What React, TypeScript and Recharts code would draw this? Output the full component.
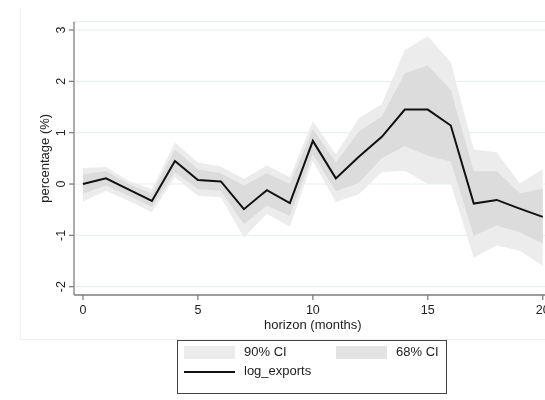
import React from "react";
import { ComposedChart, Area, Line, XAxis, YAxis, CartesianGrid } from "recharts";

// impulse response, horizon in months
const horizon = [0, 1, 2, 3, 4, 5, 6, 7, 8, 9, 10, 11, 12, 13, 14, 15, 16, 17, 18, 19, 20];
const logExports = [0, 0.11, -0.11, -0.33, 0.45, 0.08, 0.05, -0.49, -0.12, -0.37, 0.84, 0.11, 0.53, 0.92, 1.45, 1.45, 1.14, -0.38, -0.31, -0.48, -0.64];
const hi90 = [0.31, 0.33, 0.06, -0.1, 0.81, 0.42, 0.34, 0.1, 0.36, 0.13, 1.23, 0.58, 1.28, 1.56, 2.61, 2.88, 2.37, 0.67, 0.62, 0.01, 0.29];
const hi68 = [0.19, 0.25, 0.0, -0.19, 0.67, 0.29, 0.21, -0.03, 0.21, 0.0, 1.07, 0.42, 1.02, 1.32, 2.16, 2.31, 1.83, 0.25, 0.25, -0.18, -0.09];
const lo68 = [-0.19, -0.03, -0.23, -0.45, 0.23, -0.1, -0.13, -0.78, -0.42, -0.62, 0.58, -0.14, 0.02, 0.5, 0.74, 0.55, 0.44, -1.01, -0.81, -0.94, -1.16];
const lo90 = [-0.34, -0.13, -0.33, -0.55, 0.13, -0.23, -0.26, -1.04, -0.58, -0.83, 0.45, -0.35, -0.2, 0.23, 0.26, 0.0, 0.0, -1.43, -1.2, -1.3, -1.59];

const xTicks = [0, 5, 10, 15, 20];
const yTicks = [-2, -1, 0, 1, 2, 3];

const data = horizon.map((h, i) => ({
  h,
  irf: logExports[i],
  ci90: [lo90[i], hi90[i]],
  ci68: [lo68[i], hi68[i]],
}));

const FONT = "'Liberation Sans', Arial, sans-serif";
const AXIS = "#808080";
const GRID = "#e4eef0";
const BAND90 = "#ececec";
const BAND68 = "#dcdcdc";

function YTick(props: any) {
  const { x, y, payload } = props;
  return (
    <text x={x - 2} y={y} transform={`rotate(-90, ${x - 2}, ${y})`} textAnchor="middle"
      fontSize={12.5} fontFamily={FONT} fill="#222">
      {payload.value}
    </text>
  );
}

function XTick(props: any) {
  const { x, y, payload } = props;
  return (
    <text x={x} y={y + 12} textAnchor="middle" fontSize={12.5} fontFamily={FONT} fill="#222">
      {payload.value}
    </text>
  );
}

export default function App() {
  // fixed so the overflowing plot (Stata-style cut at the right edge) adds no scrollbars
  return (
    <div style={{ position: "fixed", left: 8, top: 8, width: 537, height: 392, overflow: "hidden", fontFamily: FONT }}>
      <div style={{ position: "absolute", left: 12, top: -1, width: 600, height: 331, border: "1px solid #eef2f4" }} />
      <div style={{ position: "absolute", left: 0, top: 0 }}>
        <ComposedChart width={560} height={340} data={data}
          margin={{ top: 13.7, right: 16.3, bottom: 22, left: 0 }}>
          <CartesianGrid vertical={false} stroke={GRID} />
          <XAxis dataKey="h" type="number" domain={[-0.39, 20.39]} ticks={xTicks} allowDataOverflow
            interval={0} height={31} stroke={AXIS} strokeWidth={1.3} tickSize={5} tick={<XTick />}
            label={({ viewBox }: any) => (
              <text x={viewBox.x + viewBox.width / 2} y={viewBox.y + 34} textAnchor="middle"
                fontSize={13} fontFamily={FONT} fill="#222">horizon (months)</text>
            )} />
          <YAxis type="number" domain={[-2.162, 3.162]} ticks={yTicks} allowDataOverflow
            interval={0} width={66} stroke={AXIS} strokeWidth={1.3} tickSize={5} tick={<YTick />}
            label={({ viewBox }: any) => {
              const cx = 41.5;
              const cy = viewBox.y + viewBox.height / 2;
              return (
                <text x={cx} y={cy} transform={`rotate(-90, ${cx}, ${cy})`} textAnchor="middle"
                  fontSize={13} fontFamily={FONT} fill="#222">percentage (%)</text>
              );
            }} />
          <Area dataKey="ci90" type="linear" stroke="none" fill={BAND90} fillOpacity={1} isAnimationActive={false} />
          <Area dataKey="ci68" type="linear" stroke="none" fill={BAND68} fillOpacity={1} isAnimationActive={false} />
          <Line dataKey="irf" type="linear" stroke="#111" strokeWidth={2} dot={false} isAnimationActive={false} />
        </ComposedChart>
      </div>
      <div style={{ position: "absolute", left: 169, top: 332, width: 268, height: 52, border: "1px solid #444", fontSize: 13, color: "#222" }}>
        <div style={{ position: "absolute", left: 6, top: 5, width: 51, height: 13, background: BAND90 }} />
        <div style={{ position: "absolute", left: 66, top: 3 }}>90% CI</div>
        <div style={{ position: "absolute", left: 158, top: 5, width: 51, height: 13, background: "#e3e3e3" }} />
        <div style={{ position: "absolute", left: 218, top: 3 }}>68% CI</div>
        <div style={{ position: "absolute", left: 6, top: 30, width: 51, height: 2, background: "#111" }} />
        <div style={{ position: "absolute", left: 66, top: 22 }}>log_exports</div>
      </div>
    </div>
  );
}
